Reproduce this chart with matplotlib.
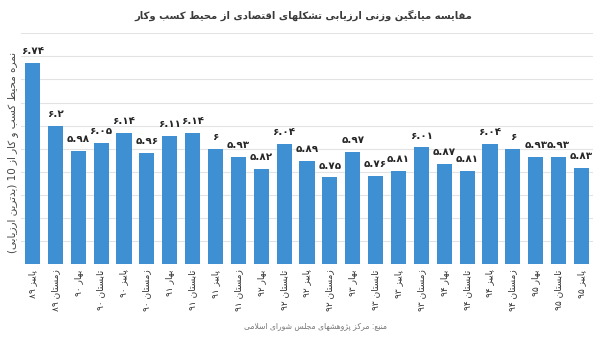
import matplotlib
matplotlib.use("Agg")
import matplotlib.pyplot as plt
import numpy as np

# ---------------- data ----------------
periods = ["پاییز ۸۹", "زمستان ۸۹", "بهار ۹۰", "تابستان ۹۰", "پاییز ۹۰", "زمستان ۹۰",
           "بهار ۹۱", "تابستان ۹۱", "پاییز ۹۱", "زمستان ۹۱", "بهار ۹۲", "تابستان ۹۲",
           "پاییز ۹۲", "زمستان ۹۲", "بهار ۹۳", "تابستان ۹۳", "پاییز ۹۳", "زمستان ۹۳",
           "بهار ۹۴", "تابستان ۹۴", "پاییز ۹۴", "زمستان ۹۴", "بهار ۹۵", "تابستان ۹۵",
           "پاییز ۹۵"]
scores = [6.74, 6.2, 5.98, 6.05, 6.14, 5.96, 6.11, 6.14, 6.0, 5.93, 5.82, 6.04,
          5.89, 5.75, 5.97, 5.76, 5.81, 6.01, 5.87, 5.81, 6.04, 6.0, 5.93, 5.93, 5.83]
title_text = "مقایسه میانگین وزنی ارزیابی تشکلهای اقتصادی از محیط کسب وکار"
ylabel_text = "نمره محیط کسب و کار از 10 (بدترین ارزیابی)"
source_text = "منبع: مرکز پژوهشهای مجلس شورای اسلامی"

# ---------------- simple Persian shaping ----------------
DUAL = {
    'ب': 'ﺏﺐﺑﺒ', 'پ': 'ﭖﭗﭘﭙ', 'ت': 'ﺕﺖﺗﺘ', 'ث': 'ﺙﺚﺛﺜ', 'ج': 'ﺝﺞﺟﺠ',
    'چ': 'ﭺﭻﭼﭽ', 'ح': 'ﺡﺢﺣﺤ', 'خ': 'ﺥﺦﺧﺨ', 'س': 'ﺱﺲﺳﺴ', 'ش': 'ﺵﺶﺷﺸ',
    'ص': 'ﺹﺺﺻﺼ', 'ض': 'ﺽﺾﺿﻀ', 'ط': 'ﻁﻂﻃﻄ', 'ظ': 'ﻅﻆﻇﻈ', 'ع': 'ﻉﻊﻋﻌ',
    'غ': 'ﻍﻎﻏﻐ', 'ف': 'ﻑﻒﻓﻔ', 'ق': 'ﻕﻖﻗﻘ', 'ک': 'ﮎﮏﮐﮑ', 'گ': 'ﮒﮓﮔﮕ',
    'ل': 'ﻝﻞﻟﻠ', 'م': 'ﻡﻢﻣﻤ', 'ن': 'ﻥﻦﻧﻨ', 'ه': 'ﻩﻪﻫﻬ', 'ی': 'ﯼﯽﯾﯿ',
    'ئ': 'ﺉﺊﺋﺌ',
}
RIGHT = {
    'ا': 'ﺍﺎ', 'آ': 'ﺁﺂ', 'د': 'ﺩﺪ', 'ذ': 'ﺫﺬ', 'ر': 'ﺭﺮ', 'ز': 'ﺯﺰ',
    'ژ': 'ﮊﮋ', 'و': 'ﻭﻮ', 'ؤ': 'ﺅﺆ', 'أ': 'ﺃﺄ', 'إ': 'ﺇﺈ',
}
LAMALEF = {'ا': ('ﻻ', 'ﻼ'), 'آ': ('ﻵ', 'ﻶ')}
MIRROR = {'(': ')', ')': '('}


def shape_word(w):
    out = []
    n = len(w)
    i = 0
    while i < n:
        c = w[i]
        prev_join = i > 0 and w[i - 1] in DUAL and (c in DUAL or c in RIGHT)
        if c == 'ل' and i + 1 < n and w[i + 1] in LAMALEF:
            iso, fin = LAMALEF[w[i + 1]]
            out.append(fin if prev_join else iso)
            i += 2
            continue
        if c in DUAL:
            next_join = i + 1 < n and (w[i + 1] in DUAL or w[i + 1] in RIGHT)
            forms = DUAL[c]
            if prev_join and next_join:
                out.append(forms[3])
            elif prev_join:
                out.append(forms[1])
            elif next_join:
                out.append(forms[2])
            else:
                out.append(forms[0])
        elif c in RIGHT:
            out.append(RIGHT[c][1] if prev_join else RIGHT[c][0])
        else:
            out.append(c)
        i += 1
    return out


def is_rtl_char(c):
    return c in DUAL or c in RIGHT or '\u0600' <= c <= '\u06ef'


def fa(text):
    words = text.split(' ')
    vis = []
    for w in words:
        if any(is_rtl_char(c) for c in w):
            chars = shape_word(w)
            runs, cur, cur_digit = [], [], None
            for ch in chars:
                d = ch.isdigit()
                if cur and d != cur_digit:
                    runs.append((cur_digit, cur))
                    cur = []
                cur.append(ch)
                cur_digit = d
            if cur:
                runs.append((cur_digit, cur))
            res = []
            for d, r in reversed(runs):
                if d:
                    res.extend(r)
                else:
                    res.extend(MIRROR.get(ch, ch) for ch in reversed(r))
            vis.append(''.join(res))
        else:
            vis.append(''.join(MIRROR.get(ch, ch) for ch in reversed(w)) if any(ch in '()' for ch in w) else w)
    return ' '.join(reversed(vis))


FA_DIGITS = str.maketrans('0123456789', '۰۱۲۳۴۵۶۷۸۹')


def fa_num(v):
    s = ('%.2f' % v).rstrip('0').rstrip('.')
    return s.translate(FA_DIGITS)


# ---------------- plot ----------------
plt.rcParams['font.family'] = ['DejaVu Sans']

fig = plt.figure(figsize=(6.0, 3.41), dpi=100)
ax = fig.add_axes([21 / 600, 1 - 264 / 341, 572 / 600, (264 - 33.3) / 341])

x = np.arange(len(scores))
ax.bar(x, scores, width=0.66, color='#3f8fd3', zorder=3)

for xi, v in zip(x, scores):
    ax.annotate(fa_num(v), (xi, v), xytext=(0, 5), textcoords='offset points',
                ha='center', va='bottom', fontsize=7.5, fontweight='bold',
                color='#262626', zorder=4)

ax.set_xlim(-0.5, len(scores) - 0.5)
ax.set_ylim(5.0, 7.0)
ax.set_yticks(np.arange(5.0, 7.01, 0.2))
ax.yaxis.grid(True, color='#e3e3e3', linewidth=0.8, zorder=0)
ax.tick_params(axis='y', length=0, labelleft=False)
ax.set_xticks(x)
ax.set_xticklabels([fa(p) for p in periods], rotation=90, fontsize=6.5,
                   color='#333333', va='top', ha='center')
ax.tick_params(axis='x', length=0, pad=4)
for s in ax.spines.values():
    s.set_visible(False)

fig.text(0.505, 1 - 15 / 341, fa(title_text), ha='center', va='center',
         fontsize=7.2, fontweight='bold', color='#3a3a3a')
fig.text(13 / 600, 1 - 152 / 341, fa(ylabel_text), rotation=90, ha='center',
         va='center', fontsize=7.5, color='#444444')
fig.text(315 / 600, 1 - 326 / 341, fa(source_text), ha='center', va='center',
         fontsize=5.5, color='#777777')

fig.savefig('out.png', dpi=100)
